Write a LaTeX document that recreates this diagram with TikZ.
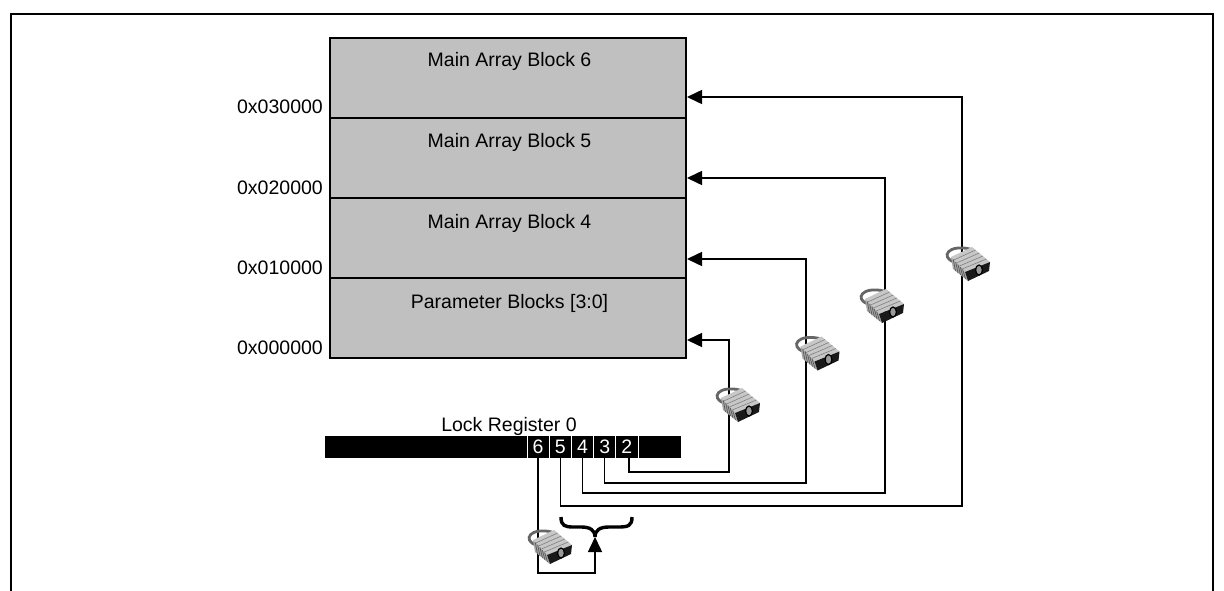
\documentclass[tikz,border=0pt]{standalone}
\usepackage{fontspec}
\setmainfont{Liberation Sans}
\usetikzlibrary{positioning, arrows.meta}
\definecolor{blockgray}{HTML}{C0C0C0}

\begin{document}
\begin{tikzpicture}[
    x=1pt, y=-1pt,
    font=\fontsize{19.5}{23}\selectfont,
    node distance=0pt,
    block/.style={rectangle, draw, line width=1.5pt, fill=blockgray, minimum width=356pt, minimum height=80pt, inner sep=0pt, outer sep=0pt},
    blocktext/.style={inner sep=0pt, anchor=center},
    addr/.style={inner sep=0pt, anchor=east},
    regbar/.style={rectangle, fill=black, minimum width=356pt, minimum height=22pt, inner sep=0pt, outer sep=0pt},
    cell/.style={rectangle, fill=black, text=white, minimum width=22.2pt, minimum height=22pt, inner sep=0pt, outer sep=0pt},
    sep/.style={white, line width=1pt},
    arrow/.style={-{Triangle[length=15pt, width=14pt]}, line width=1.5pt},
    lock/.pic={
        % shackle
        \draw[line width=2.8pt, draw=black!60] (-14,-2) .. controls (-28,-7) and (-20,-20) .. (2,-15);
        % top and side
        \fill[black!22] (-17,-7) -- (4,-17) -- (22,-2) -- (-3,8) -- cycle;
        \fill[black!35] (-17,-7) -- (-3,8) -- (0,17) -- (-15,5) -- cycle;
        \draw[black!50, line width=0.6pt] (-14.2,-4) -- (7.6,-14) (-11.4,-1) -- (11.2,-11) (-8.6,2) -- (14.8,-8) (-5.8,5) -- (18.4,-5);
        \draw[black!65, line width=0.7pt] (-14.7,-4.5) -- (-12.5,7) (-12.3,-2) -- (-10,9) (-10,.5) -- (-7.5,11) (-7.7,3) -- (-5,13) (-5.3,5.5) -- (-2.5,15);
        % front with keyhole
        \fill[black!90] (-3,8) -- (22,-2) -- (21,7) -- (0,17) -- cycle;
        \draw[fill=black!40, draw=black, line width=1.2pt] (11,6) ellipse (3.4pt and 5pt);
    }
]
    \useasboundingbox (0,0) rectangle (1224,591);

    % outer frame, open at the bottom
    \draw[line width=1.8pt] (11,591) -- (11,14) -- (1213,14) -- (1213,591);

    \node[block, anchor=north west] (b6) at (330,38) {};
    \node[block] (b5) [below=of b6] {};
    \node[block] (b4) [below=of b5] {};
    \node[block] (pb) [below=of b4] {};

    \node[blocktext] (b6txt) at (509.5,61) {Main Array Block 6};
    \node[blocktext] (b5txt) at (509.5,142) {Main Array Block 5};
    \node[blocktext] (b4txt) at (509.5,223) {Main Array Block 4};
    \node[blocktext] (pbtxt) at (509.5,303) {Parameter Blocks [3:0]};

    \node[addr] (a3) at (323,107) {0x030000};
    \node[addr] (a2) at (323,188) {0x020000};
    \node[addr] (a1) at (323,268) {0x010000};
    \node[addr] (a0) at (323,348) {0x000000};

    % lock register
    \node[regbar, anchor=north west] (reg) at (325,436) {};
    \node[inner sep=0pt, anchor=south] (regtxt) at (509,436) {Lock Register 0};
    \node[cell, anchor=north west] (c6) at (527,436) {6};
    \node[cell] (c5) [right=of c6] {5};
    \node[cell] (c4) [right=of c5] {4};
    \node[cell] (c3) [right=of c4] {3};
    \node[cell] (c2) [right=of c3] {2};

    \draw[sep] (c6.north west) -- (c6.south west);
    \draw[sep] (c6.north east) -- (c6.south east);
    \draw[sep] (c5.north east) -- (c5.south east);
    \draw[sep] (c4.north east) -- (c4.south east);
    \draw[sep] (c3.north east) -- (c3.south east);
    \draw[sep] (c2.north east) -- (c2.south east);

    % bends of the wires
    \coordinate (t0) at (687,340);
    \coordinate (t1) at (687,259);
    \coordinate (t2) at (687,178);
    \coordinate (t3) at (687,97);
    \coordinate (k0) at (729,472);
    \coordinate (k1) at (806,483);
    \coordinate (k2) at (885,493);
    \coordinate (k3) at (962,506);
    \coordinate (k6) at (595,573);
    \coordinate (tip) at (595,537);

    \draw[arrow] ([xshift=2pt]c2.south) |- (k0) |- (t0);
    \draw[arrow] (c3.south) |- (k1) |- (t1);
    \draw[arrow] (c4.south) |- (k2) |- (t2);
    \draw[arrow] (c5.south) |- (k3) |- (t3);

    % curly brace over the arrow
    \draw[line width=3.4pt] (561,517) .. controls (561,526) and (565,527) .. (574,527) -- (581,527) .. controls (590,527) and (595,530) .. (tip) .. controls (595,530) and (600,527) .. (609,527) -- (618,527) .. controls (628,527) and (632,526) .. (632,517);
    \draw[arrow] (c6.south) |- (k6) -- (tip);

    \pic at (738,405) {lock};
    \pic at (817.5,353.5) {lock};
    \pic at (882,306) {lock};
    \pic at (968,264) {lock};
    \pic at (550,547) {lock};
\end{tikzpicture}
\end{document}
